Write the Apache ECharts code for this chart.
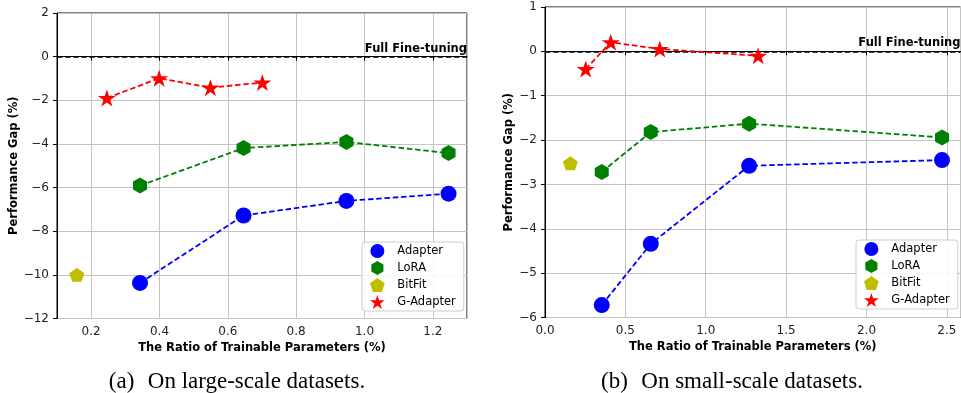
<!DOCTYPE html>
<html>
<head>
<meta charset="utf-8">
<script src="https://cdn.jsdelivr.net/npm/echarts@6/dist/echarts.min.js"></script>
<style>html,body{margin:0;padding:0;background:#fff}#c{width:961px;height:393px}</style>
</head>
<body>
<div id="c"></div>
<script>
// ---- Data: (a) large-scale datasets ----
const adapterXLarge = [0.343, 0.646, 0.947, 1.246];
const adapterYLarge = [-10.37, -7.28, -6.61, -6.28];
const loraXLarge = [0.343, 0.646, 0.947, 1.246];
const loraYLarge = [-5.91, -4.19, -3.91, -4.42];
const bitfitXLarge = [0.158];
const bitfitYLarge = [-10.0];
const gadapterXLarge = [0.246, 0.399, 0.549, 0.701];
const gadapterYLarge = [-1.90, -0.99, -1.42, -1.19];

// ---- Data: (b) small-scale datasets ----
const adapterXSmall = [0.353, 0.658, 1.270, 2.470];
const adapterYSmall = [-5.72, -4.34, -2.58, -2.45];
const loraXSmall = [0.353, 0.658, 1.270, 2.470];
const loraYSmall = [-2.72, -1.82, -1.63, -1.94];
const bitfitXSmall = [0.158];
const bitfitYSmall = [-2.52];
const gadapterXSmall = [0.253, 0.409, 0.714, 1.326];
const gadapterYSmall = [-0.40, 0.205, 0.054, -0.10];

const seriesNames = ['Adapter', 'LoRA', 'BitFit', 'G-Adapter'];
const fullFtValue = 0;
const fullFtLabel = 'Full Fine-tuning';
const xTitle = 'The Ratio of Trainable Parameters (%)';
const yTitle = 'Performance Gap (%)';
const captionA = '(a)  \u200aOn large-scale datasets.';
const captionB = '(b)  \u200aOn small-scale datasets.';

const zip = (xs, ys) => xs.map((x, i) => [x, ys[i]]);

const HEX = 'path://M0,-1 L0.866,-0.5 L0.866,0.5 L0,1 L-0.866,0.5 L-0.866,-0.5 Z';
const PENT = 'path://M0,-1 L0.951,-0.309 L0.588,0.809 L-0.588,0.809 L-0.951,-0.309 Z';
const STAR = 'path://M0,-1 L0.2245,-0.309 L0.951,-0.309 L0.363,0.118 L0.588,0.809 L0,0.382 L-0.588,0.809 L-0.363,0.118 L-0.951,-0.309 L-0.2245,-0.309 Z';

const styles = {
  'Adapter': {color: '#0000ff', symbol: 'circle', size: 16},
  'LoRA': {color: '#008000', symbol: HEX, size: [14, 16]},
  'BitFit': {color: '#bfbf00', symbol: PENT, size: [15, 14]},
  'G-Adapter': {color: '#ff0000', symbol: STAR, size: [18, 17]}
};

const FONT = 'DejaVu Sans';
const GRID_COLOR = '#c4c4c4';
const minus = v => (v < 0 ? '\u2212' + Math.abs(v) : String(v));

function mkSeries(name, data, gi, withLine, withMark) {
  const st = styles[name];
  const s = {
    name: name, type: 'line', xAxisIndex: gi, yAxisIndex: gi,
    data: data, symbol: st.symbol, symbolSize: st.size,
    itemStyle: {color: st.color, opacity: 1},
    lineStyle: withLine ? {color: st.color, width: 1.8, type: [5.5, 2.8]} : {width: 0, opacity: 0},
    showSymbol: true, animation: false, z: 5
  };
  if (withMark) {
    s.markLine = {
      silent: true, symbol: ['none', 'none'], animation: false,
      lineStyle: {color: '#000', width: 1.6, type: [5.5, 2.6]},
      label: {show: true, position: 'insideEndTop', formatter: fullFtLabel,
              color: '#000', fontWeight: 'bold', fontFamily: FONT, fontSize: 11.5, distance: [0, 2]},
      data: [{yAxis: fullFtValue}]
    };
  }
  return s;
}

function xAxisCfg(gi, min, max, interval, showMin) {
  const a = {
    type: 'value', gridIndex: gi, min: min, max: max,
    name: xTitle, nameLocation: 'middle', nameGap: 22,
    nameTextStyle: {fontFamily: FONT, fontWeight: 'bold', fontSize: 11.5, color: '#000'},
    axisLine: {show: true, lineStyle: {color: '#000', width: 1}},
    axisTick: {show: true, length: 4, lineStyle: {color: '#000'}},
    axisLabel: {fontFamily: FONT, fontSize: 12, color: '#222', margin: 7,
                showMinLabel: showMin, showMaxLabel: false,
                formatter: v => v.toFixed(1)},
    splitLine: {show: true, lineStyle: {color: GRID_COLOR, width: 1}}
  };
  if (interval) a.interval = interval; else a.splitNumber = 6;
  return a;
}
function yAxisCfg(gi, min, max, interval, gap) {
  return {
    type: 'value', gridIndex: gi, min: min, max: max, interval: interval,
    name: yTitle, nameLocation: 'middle', nameGap: gap, nameRotate: 90,
    nameTextStyle: {fontFamily: FONT, fontWeight: 'bold', fontSize: 11.5, color: '#000'},
    axisLine: {show: true, lineStyle: {color: '#000', width: 1}},
    axisTick: {show: true, length: 4, lineStyle: {color: '#000'}},
    axisLabel: {fontFamily: FONT, fontSize: 12, color: '#222', margin: 8, formatter: minus},
    splitLine: {show: true, lineStyle: {color: GRID_COLOR, width: 1}}
  };
}

function legendCfg(left, top) {
  return {
    orient: 'vertical', left: left, top: top, width: 100,
    padding: [2, 8, 2, 8], itemGap: 3, itemWidth: 16, itemHeight: 14,
    backgroundColor: 'rgba(255,255,255,0.85)', borderColor: '#cccccc', borderWidth: 1, borderRadius: 3,
    textStyle: {fontFamily: FONT, fontSize: 11.5, color: '#000', padding: [0, 0, 0, 7]},
    data: seriesNames.map(n => ({name: n, icon: styles[n].symbol})),
    selectedMode: false
  };
}

const chart = echarts.init(document.getElementById('c'), null, {renderer: 'canvas'});
chart.setOption({
  backgroundColor: '#fff',
  animation: false,
  grid: [
    {left: 57, top: 13, width: 410, height: 305.5, show: true, borderColor: '#000', borderWidth: 1, backgroundColor: 'transparent'},
    {left: 545, top: 7, width: 415.5, height: 310.5, show: true, borderColor: '#000', borderWidth: 1, backgroundColor: 'transparent'}
  ],
  xAxis: [
    xAxisCfg(0, 0.1, 1.3, null, false),
    xAxisCfg(1, 0, 2.585, 0.5, true)
  ],
  yAxis: [
    yAxisCfg(0, -12, 2, 2, 36),
    yAxisCfg(1, -6, 1, 1, 29)
  ],
  legend: [legendCfg(362, 242), legendCfg(856, 240)],
  series: [
    mkSeries('Adapter', zip(adapterXLarge, adapterYLarge), 0, true, false),
    mkSeries('LoRA', zip(loraXLarge, loraYLarge), 0, true, false),
    mkSeries('BitFit', zip(bitfitXLarge, bitfitYLarge), 0, false, true),
    mkSeries('G-Adapter', zip(gadapterXLarge, gadapterYLarge), 0, true, false),
    mkSeries('Adapter', zip(adapterXSmall, adapterYSmall), 1, true, false),
    mkSeries('LoRA', zip(loraXSmall, loraYSmall), 1, true, false),
    mkSeries('BitFit', zip(bitfitXSmall, bitfitYSmall), 1, false, true),
    mkSeries('G-Adapter', zip(gadapterXSmall, gadapterYSmall), 1, true, false)
  ],
  graphic: [
    {type: 'text', x: 237, y: 382, style: {text: captionA, font: '23px "Liberation Serif"', fill: '#000', textAlign: 'center', textVerticalAlign: 'middle'}},
    {type: 'text', x: 732, y: 382, style: {text: captionB, font: '23px "Liberation Serif"', fill: '#000', textAlign: 'center', textVerticalAlign: 'middle'}}
  ]
});
</script>
</body>
</html>
